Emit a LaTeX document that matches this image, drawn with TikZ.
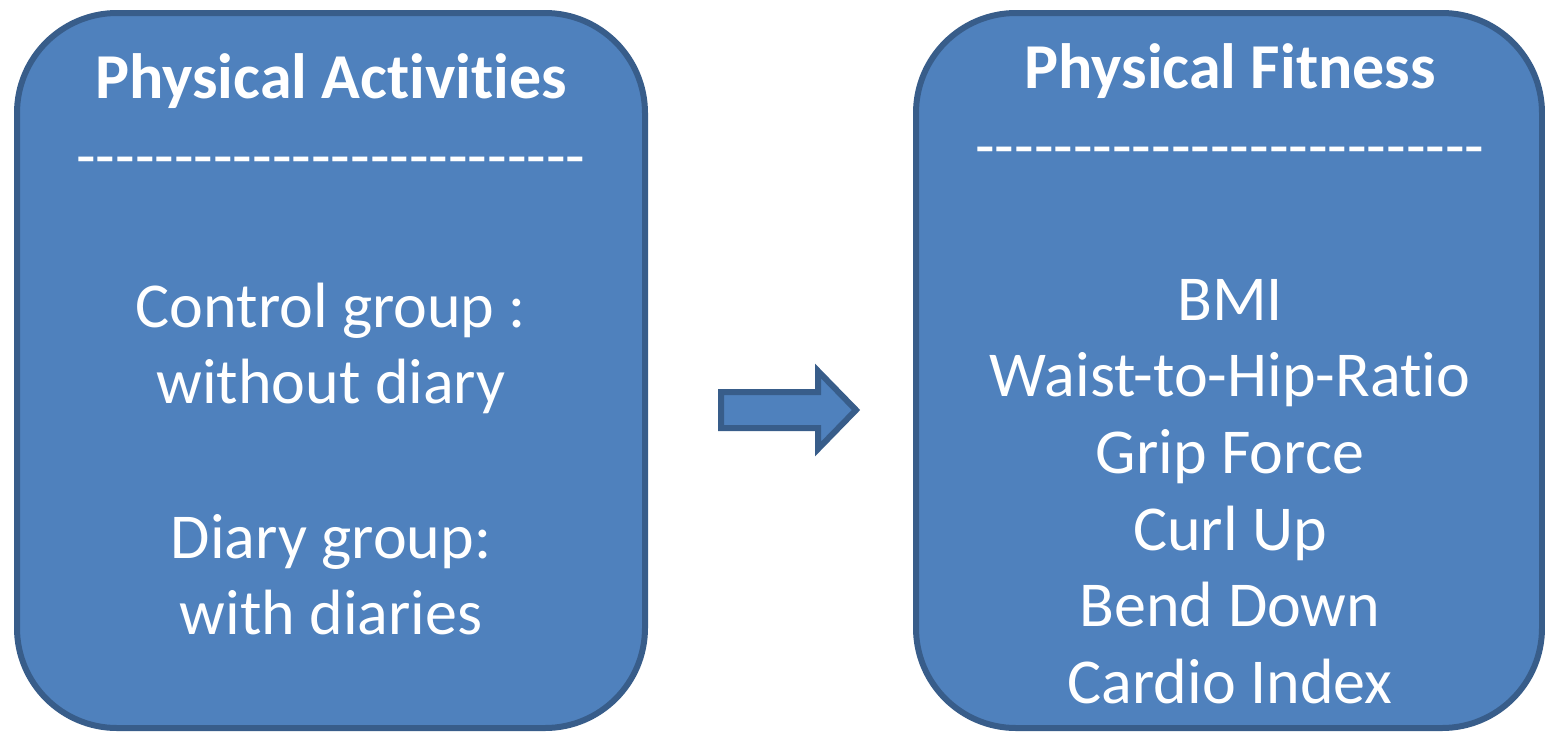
\documentclass[tikz,border=0pt]{standalone}
\usepackage{fontspec}
\setmainfont[Ligatures=NoCommon]{Carlito}
\definecolor{boxfill}{HTML}{4F81BD}
\definecolor{boxline}{HTML}{385D8A}
\tikzset{
  panel/.style={draw=boxline, fill=boxfill, line width=6pt, rounded corners=100pt},
  txt/.style={text=white, font=\fontsize{64}{77}\selectfont, inner sep=0pt, text height=41pt, text depth=0pt, anchor=center},
  ttl/.style={txt, font=\fontsize{64}{77}\selectfont\bfseries},
  blockarrow/.style={draw=boxline, fill=boxfill, line width=6pt, line join=miter}
}
\begin{document}
\begin{tikzpicture}[x=1pt,y=-1pt]
\useasboundingbox (0,0) rectangle (1545,732);
\draw[panel] (17,13) rectangle (645,728);
\draw[panel] (916,13) rectangle (1542,728);
\node[ttl] (lt) at (331,78) {Physical Activities};
\node[txt] (ld) at (331,157) {-{}-{}-{}-{}-{}-{}-{}-{}-{}-{}-{}-{}-{}-{}-{}-{}-{}-{}-{}-{}-{}-{}-{}-{}-{}-};
\node[txt] (l1) at (331,307) {Control group :};
\node[txt] (l2) at (331,383) {without diary};
\node[txt] (l3) at (331,538) {Diary group:};
\node[txt] (l4) at (331,614) {with diaries};
\node[ttl] (rt) at (1230,68) {Physical Fitness};
\node[txt] (rd) at (1230,147) {-{}-{}-{}-{}-{}-{}-{}-{}-{}-{}-{}-{}-{}-{}-{}-{}-{}-{}-{}-{}-{}-{}-{}-{}-{}-};
\node[txt] (r1) at (1230,300) {BMI};
\node[txt] (r2) at (1230,376) {Waist-to-Hip-Ratio};
\node[txt] (r3) at (1230,453) {Grip Force};
\node[txt] (r4) at (1230,530) {Curl Up};
\node[txt] (r5) at (1230,606) {Bend Down};
\node[txt] (r6) at (1230,683) {Cardio Index};
\draw[blockarrow] (721,392) -- (818,392) -- (818,371) -- (856,410) -- (818,449) -- (818,428) -- (721,428) -- cycle;
\end{tikzpicture}
\end{document}
